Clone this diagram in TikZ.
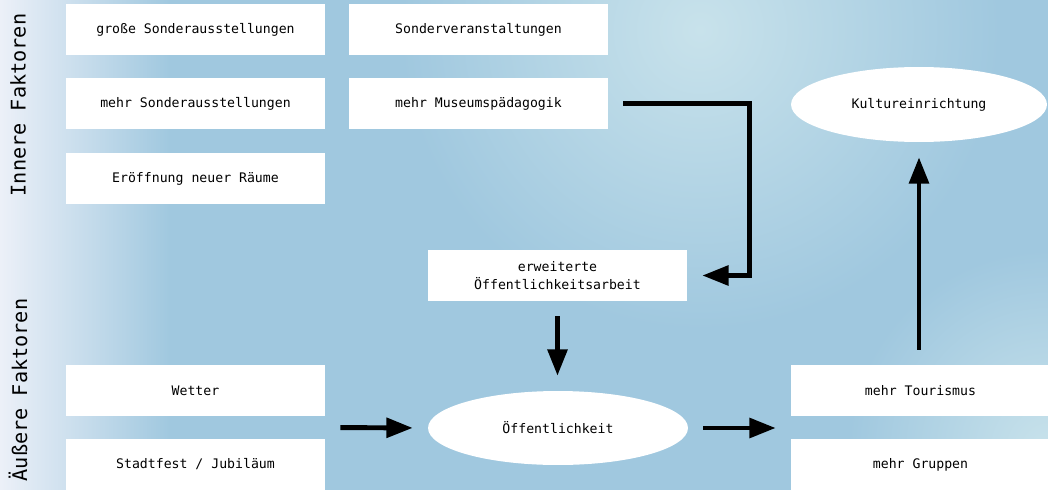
\documentclass[tikz,border=0pt]{standalone}
\usepackage{fontspec}
\setmonofont{DejaVu Sans Mono}
\usepackage{tikz}
\usetikzlibrary{shapes.geometric}
\usetikzlibrary{arrows.meta}
\usetikzlibrary{calc}

\definecolor{bgblue}{RGB}{160,200,223}
\definecolor{bgleft}{RGB}{236,240,248}
\definecolor{bglight}{RGB}{200,226,235}

\begin{document}
\begin{tikzpicture}[x = 0.02cm, y = -0.02cm,
	arr/.style = {line width = 2.8pt, -{Triangle[length = 15pt, width = 11pt]}, shorten <= 8.5pt, shorten >= 8.5pt}]
		\useasboundingbox (0, 0) rectangle (1048, 490);
		
		% background
		\fill [bgblue] (0, 0) rectangle (1048, 490);
		\shade [inner color = bglight, outer color = bgblue] (700, 30) circle [radius = 6cm];
		\shade [inner color = bglight, outer color = bgblue] (1048, 450) circle [radius = 4cm];
		\shade [left color = bgleft, right color = bgblue] (0, 0) rectangle (170, 490);
		
		\begin{scope}[every node/.style = {rotate = 90, font = \ttfamily\fontsize{11.5}{14}\selectfont}]
		\node (innen) at (18, 105) {Innere Faktoren};
		\node (aussen) at (18, 390) {Äußere Faktoren};
		\end{scope}
		
		\begin{scope}[every node/.style = {rectangle, fill = white, minimum width = 5.18cm, minimum height = 1.02cm, inner sep = 0pt, align = center, font = \ttfamily\fontsize{7.5}{10}\selectfont}]
		\node (gross) at (195.5, 29.5) {große Sonderausstellungen};
		\node (sonder) at (478.5, 29.5) {Sonderveranstaltungen};
		\node (mehr) at (195.5, 103.5) {mehr Sonderausstellungen};
		\node (mus) at (478.5, 103.5) {mehr Museumspädagogik};
		\node (raum) at (195.5, 178.5) {Eröffnung neuer Räume};
		\node (oea) at (557.5, 275.5) {erweiterte\\Öffentlichkeitsarbeit};
		\node (wetter) at (195.5, 390.5) {Wetter};
		\node (fest) at (195.5, 464.5) {Stadtfest / Jubiläum};
		\node (tour) at (920.5, 390.5) {mehr Tourismus};
		\node (grup) at (920.5, 464.5) {mehr Gruppen};
		\end{scope}
		
		\begin{scope}[every node/.style = {ellipse, fill = white, inner sep = 0pt, font = \ttfamily\fontsize{7.5}{10}\selectfont}]
		\node (kult) [minimum width = 5.12cm, minimum height = 1.5cm] at (919, 104.5) {Kultureinrichtung};
		\node (oeff) [minimum width = 5.2cm, minimum height = 1.48cm] at (558, 428) {Öffentlichkeit};
		\end{scope}
		
		\draw [arr] (mus.east) -| ($(oea.east) + (62, 0)$) -- (oea.east);
		\draw [arr] (oea.south) -- (oea.south |- oeff.north);
		\draw [arr] ($(wetter.south east)!0.5!(fest.north east)$) -- (oeff.west);
		\draw [arr] (oeff.east) -- (oeff.east -| tour.west);
		\draw [arr] (tour.north -| kult.south) -- (kult.south);
		
\end{tikzpicture}
\end{document}
